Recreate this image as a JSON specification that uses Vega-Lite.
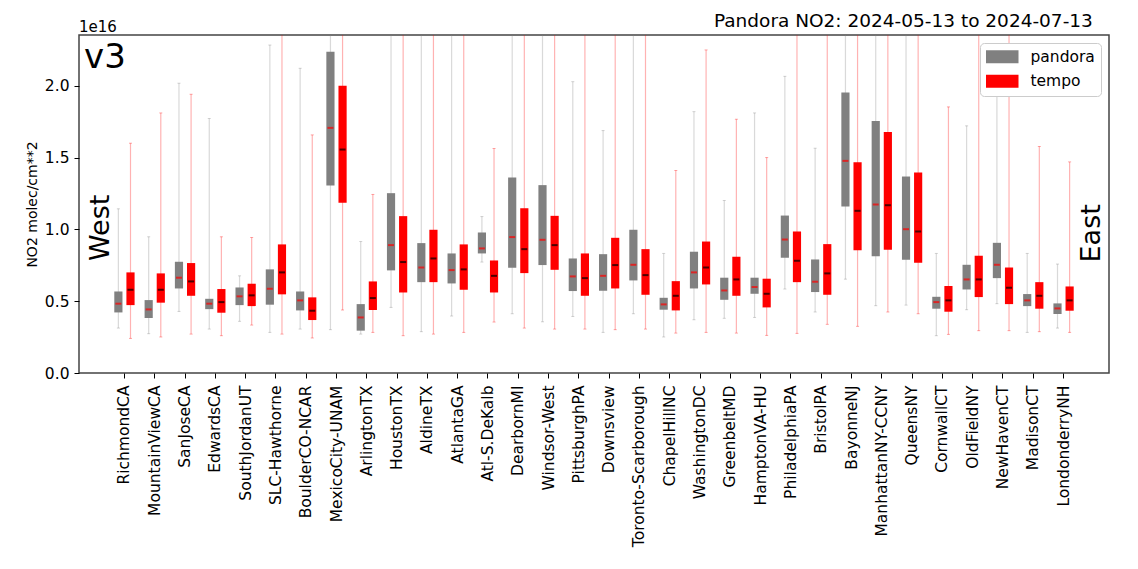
{
  "$schema": "https://vega.github.io/schema/vega-lite/v6.json",
  "width": 1030,
  "height": 338,
  "autosize": {"type": "none"},
  "padding": {"left": 79, "top": 35, "right": 29, "bottom": 196},
  "background": "white",
  "config": {
    "view": {"stroke": "#444444", "strokeWidth": 1.5},
    "font": "DejaVu Sans",
    "axis": {"labelFont": "DejaVu Sans", "titleFont": "DejaVu Sans", "labelColor": "black", "titleColor": "black", "tickColor": "black", "grid": false, "domain": false}
  },
  "layer": [
    {
      "data": {"values": [
        {"site": "RichmondCA", "src": "pandora", "lo": 0.313, "q1": 0.422, "med": 0.483, "q3": 0.568, "hi": 1.144},
        {"site": "RichmondCA", "src": "tempo", "lo": 0.241, "q1": 0.473, "med": 0.580, "q3": 0.701, "hi": 1.601},
        {"site": "MountainViewCA", "src": "pandora", "lo": 0.274, "q1": 0.383, "med": 0.443, "q3": 0.508, "hi": 0.949},
        {"site": "MountainViewCA", "src": "tempo", "lo": 0.251, "q1": 0.490, "med": 0.580, "q3": 0.694, "hi": 1.812},
        {"site": "SanJoseCA", "src": "pandora", "lo": 0.429, "q1": 0.589, "med": 0.664, "q3": 0.775, "hi": 2.019},
        {"site": "SanJoseCA", "src": "tempo", "lo": 0.271, "q1": 0.538, "med": 0.638, "q3": 0.766, "hi": 1.942},
        {"site": "EdwardsCA", "src": "pandora", "lo": 0.306, "q1": 0.445, "med": 0.483, "q3": 0.517, "hi": 1.773},
        {"site": "EdwardsCA", "src": "tempo", "lo": 0.260, "q1": 0.420, "med": 0.494, "q3": 0.585, "hi": 0.949},
        {"site": "SouthJordanUT", "src": "pandora", "lo": 0.360, "q1": 0.473, "med": 0.534, "q3": 0.596, "hi": 0.677},
        {"site": "SouthJordanUT", "src": "tempo", "lo": 0.334, "q1": 0.466, "med": 0.541, "q3": 0.622, "hi": 0.944},
        {"site": "SLC-Hawthorne", "src": "pandora", "lo": 0.283, "q1": 0.476, "med": 0.587, "q3": 0.722, "hi": 2.285},
        {"site": "SLC-Hawthorne", "src": "tempo", "lo": 0.271, "q1": 0.548, "med": 0.701, "q3": 0.896, "hi": 2.6},
        {"site": "BoulderCO-NCAR", "src": "pandora", "lo": 0.306, "q1": 0.436, "med": 0.506, "q3": 0.568, "hi": 2.123},
        {"site": "BoulderCO-NCAR", "src": "tempo", "lo": 0.244, "q1": 0.369, "med": 0.434, "q3": 0.527, "hi": 1.659},
        {"site": "MexicoCity-UNAM", "src": "pandora", "lo": 0.302, "q1": 1.306, "med": 1.708, "q3": 2.239, "hi": 2.6},
        {"site": "MexicoCity-UNAM", "src": "tempo", "lo": 0.439, "q1": 1.186, "med": 1.557, "q3": 2.002, "hi": 2.6},
        {"site": "ArlingtonTX", "src": "pandora", "lo": 0.271, "q1": 0.295, "med": 0.387, "q3": 0.480, "hi": 0.916},
        {"site": "ArlingtonTX", "src": "tempo", "lo": 0.283, "q1": 0.439, "med": 0.522, "q3": 0.638, "hi": 1.244},
        {"site": "HoustonTX", "src": "pandora", "lo": 0.457, "q1": 0.715, "med": 0.891, "q3": 1.253, "hi": 2.6},
        {"site": "HoustonTX", "src": "tempo", "lo": 0.260, "q1": 0.561, "med": 0.773, "q3": 1.093, "hi": 2.6},
        {"site": "AldineTX", "src": "pandora", "lo": 0.288, "q1": 0.633, "med": 0.735, "q3": 0.905, "hi": 2.6},
        {"site": "AldineTX", "src": "tempo", "lo": 0.271, "q1": 0.633, "med": 0.798, "q3": 0.998, "hi": 2.6},
        {"site": "AtlantaGA", "src": "pandora", "lo": 0.397, "q1": 0.624, "med": 0.717, "q3": 0.833, "hi": 2.6},
        {"site": "AtlantaGA", "src": "tempo", "lo": 0.283, "q1": 0.580, "med": 0.722, "q3": 0.896, "hi": 2.6},
        {"site": "Atl-S.DeKalb", "src": "pandora", "lo": 0.773, "q1": 0.833, "med": 0.868, "q3": 0.979, "hi": 1.090},
        {"site": "Atl-S.DeKalb", "src": "tempo", "lo": 0.355, "q1": 0.561, "med": 0.677, "q3": 0.784, "hi": 1.564},
        {"site": "DearbornMI", "src": "pandora", "lo": 0.413, "q1": 0.733, "med": 0.947, "q3": 1.362, "hi": 2.6},
        {"site": "DearbornMI", "src": "tempo", "lo": 0.313, "q1": 0.696, "med": 0.863, "q3": 1.148, "hi": 2.6},
        {"site": "Windsor-West", "src": "pandora", "lo": 0.357, "q1": 0.752, "med": 0.928, "q3": 1.309, "hi": 2.6},
        {"site": "Windsor-West", "src": "tempo", "lo": 0.306, "q1": 0.719, "med": 0.891, "q3": 1.095, "hi": 2.6},
        {"site": "PittsburghPA", "src": "pandora", "lo": 0.394, "q1": 0.571, "med": 0.673, "q3": 0.798, "hi": 2.030},
        {"site": "PittsburghPA", "src": "tempo", "lo": 0.306, "q1": 0.538, "med": 0.661, "q3": 0.833, "hi": 2.6},
        {"site": "Downsview", "src": "pandora", "lo": 0.283, "q1": 0.573, "med": 0.677, "q3": 0.828, "hi": 1.689},
        {"site": "Downsview", "src": "tempo", "lo": 0.302, "q1": 0.589, "med": 0.752, "q3": 0.942, "hi": 2.6},
        {"site": "Toronto-Scarborough", "src": "pandora", "lo": 0.413, "q1": 0.645, "med": 0.754, "q3": 0.998, "hi": 2.6},
        {"site": "Toronto-Scarborough", "src": "tempo", "lo": 0.306, "q1": 0.545, "med": 0.682, "q3": 0.863, "hi": 2.6},
        {"site": "ChapelHillNC", "src": "pandora", "lo": 0.251, "q1": 0.441, "med": 0.478, "q3": 0.524, "hi": 0.833},
        {"site": "ChapelHillNC", "src": "tempo", "lo": 0.278, "q1": 0.436, "med": 0.538, "q3": 0.640, "hi": 1.411},
        {"site": "WashingtonDC", "src": "pandora", "lo": 0.371, "q1": 0.589, "med": 0.701, "q3": 0.845, "hi": 1.821},
        {"site": "WashingtonDC", "src": "tempo", "lo": 0.283, "q1": 0.617, "med": 0.735, "q3": 0.916, "hi": 2.251},
        {"site": "GreenbeltMD", "src": "pandora", "lo": 0.381, "q1": 0.510, "med": 0.575, "q3": 0.664, "hi": 1.202},
        {"site": "GreenbeltMD", "src": "tempo", "lo": 0.278, "q1": 0.538, "med": 0.652, "q3": 0.810, "hi": 1.768},
        {"site": "HamptonVA-HU", "src": "pandora", "lo": 0.387, "q1": 0.552, "med": 0.599, "q3": 0.664, "hi": 1.812},
        {"site": "HamptonVA-HU", "src": "tempo", "lo": 0.262, "q1": 0.457, "med": 0.552, "q3": 0.657, "hi": 1.501},
        {"site": "PhiladelphiaPA", "src": "pandora", "lo": 0.585, "q1": 0.803, "med": 0.930, "q3": 1.097, "hi": 2.067},
        {"site": "PhiladelphiaPA", "src": "tempo", "lo": 0.276, "q1": 0.633, "med": 0.782, "q3": 0.986, "hi": 2.6},
        {"site": "BristolPA", "src": "pandora", "lo": 0.425, "q1": 0.564, "med": 0.636, "q3": 0.791, "hi": 1.566},
        {"site": "BristolPA", "src": "tempo", "lo": 0.339, "q1": 0.545, "med": 0.694, "q3": 0.898, "hi": 2.6},
        {"site": "BayonneNJ", "src": "pandora", "lo": 0.654, "q1": 1.160, "med": 1.478, "q3": 1.954, "hi": 2.6},
        {"site": "BayonneNJ", "src": "tempo", "lo": 0.325, "q1": 0.856, "med": 1.130, "q3": 1.469, "hi": 2.6},
        {"site": "ManhattanNY-CCNY", "src": "pandora", "lo": 0.469, "q1": 0.814, "med": 1.174, "q3": 1.756, "hi": 2.6},
        {"site": "ManhattanNY-CCNY", "src": "tempo", "lo": 0.425, "q1": 0.858, "med": 1.169, "q3": 1.680, "hi": 2.6},
        {"site": "QueensNY", "src": "pandora", "lo": 0.473, "q1": 0.789, "med": 1.002, "q3": 1.369, "hi": 2.6},
        {"site": "QueensNY", "src": "tempo", "lo": 0.413, "q1": 0.768, "med": 0.986, "q3": 1.397, "hi": 2.6},
        {"site": "CornwallCT", "src": "pandora", "lo": 0.260, "q1": 0.448, "med": 0.494, "q3": 0.531, "hi": 0.833},
        {"site": "CornwallCT", "src": "tempo", "lo": 0.269, "q1": 0.427, "med": 0.506, "q3": 0.606, "hi": 1.854},
        {"site": "OldFieldNY", "src": "pandora", "lo": 0.441, "q1": 0.582, "med": 0.652, "q3": 0.754, "hi": 1.722},
        {"site": "OldFieldNY", "src": "tempo", "lo": 0.295, "q1": 0.529, "med": 0.652, "q3": 0.817, "hi": 2.6},
        {"site": "NewHavenCT", "src": "pandora", "lo": 0.483, "q1": 0.661, "med": 0.754, "q3": 0.907, "hi": 2.037},
        {"site": "NewHavenCT", "src": "tempo", "lo": 0.295, "q1": 0.480, "med": 0.594, "q3": 0.735, "hi": 2.6},
        {"site": "MadisonCT", "src": "pandora", "lo": 0.283, "q1": 0.466, "med": 0.506, "q3": 0.550, "hi": 0.833},
        {"site": "MadisonCT", "src": "tempo", "lo": 0.288, "q1": 0.448, "med": 0.538, "q3": 0.633, "hi": 1.578},
        {"site": "LondonderryNH", "src": "pandora", "lo": 0.313, "q1": 0.411, "med": 0.450, "q3": 0.485, "hi": 0.759},
        {"site": "LondonderryNH", "src": "tempo", "lo": 0.283, "q1": 0.434, "med": 0.506, "q3": 0.603, "hi": 1.471}
      ]},
      "encoding": {
        "x": {"field": "site", "type": "nominal", "sort": null, "scale": {"paddingInner": 0, "paddingOuter": 2.5},
              "axis": {"title": null, "labelAngle": -90, "labelFontSize": 15.5, "tickSize": 5, "labelPadding": 7}},
        "xOffset": {"field": "src", "type": "nominal", "scale": {"domain": ["pandora", "tempo"], "paddingInner": 0.325, "paddingOuter": 0.4125}}
      },
      "layer": [
        {
          "mark": {"type": "rule", "clip": true, "strokeWidth": 1.2, "opacity": 0.3},
          "encoding": {
            "y": {"field": "lo", "type": "quantitative", "scale": {"domain": [0, 2.355], "nice": false},
                  "axis": {"title": "NO2 molec/cm**2", "titleFontSize": 14, "titleFontWeight": "normal", "titlePadding": 5, "values": [0, 0.5, 1, 1.5, 2], "format": ".1f", "labelFontSize": 15.5, "tickSize": 5, "labelPadding": 5}},
            "y2": {"field": "hi"},
            "color": {"field": "src", "type": "nominal", "scale": {"domain": ["pandora", "tempo"], "range": ["#808080", "#ff0000"]}}
          }
        },
        {
          "mark": {"type": "tick", "clip": true, "size": 3, "thickness": 1, "opacity": 0.35},
          "encoding": {
            "y": {"field": "lo", "type": "quantitative"},
            "color": {"field": "src", "type": "nominal"}
          }
        },
        {
          "mark": {"type": "tick", "clip": true, "size": 3, "thickness": 1, "opacity": 0.35},
          "encoding": {
            "y": {"field": "hi", "type": "quantitative"},
            "color": {"field": "src", "type": "nominal"}
          }
        },
        {
          "mark": {"type": "bar", "clip": true},
          "encoding": {
            "y": {"field": "q1", "type": "quantitative"},
            "y2": {"field": "q3"},
            "color": {"field": "src", "type": "nominal",
                      "legend": {"title": null, "orient": "top-right", "offset": 8, "padding": 6, "strokeColor": "#cccccc", "fillColor": "white", "cornerRadius": 4,
                                 "labelFontSize": 15.5, "labelFont": "DejaVu Sans", "labelColor": "black",
                                 "symbolType": "M-2.5,-1H2.5V1H-2.5Z", "symbolSize": 169, "symbolOffset": 8.5, "labelOffset": 20.5, "rowPadding": 7.5,
                                 "symbolOpacity": 1, "symbolStrokeWidth": 0,
                                 "encode": {"symbols": {"update": {"opacity": {"value": 1}, "fillOpacity": {"value": 1}}}}}}
          }
        },
        {
          "mark": {"type": "tick", "clip": true, "size": 6, "thickness": 2},
          "encoding": {
            "y": {"field": "med", "type": "quantitative"},
            "fill": {"field": "src", "type": "nominal", "scale": {"domain": ["pandora", "tempo"], "range": ["#ff0000", "#000000"]}, "legend": null}
          }
        }
      ]
    },
    {
      "data": {"values": [{}]},
      "layer": [
        {
          "mark": {"type": "text", "text": "v3", "fontSize": 34, "align": "left", "baseline": "alphabetic", "font": "DejaVu Sans", "color": "black"},
          "encoding": {
            "x": {"datum": -2.82, "type": "quantitative", "scale": {"domain": [-3, 34], "nice": false, "zero": false}, "axis": null},
            "y": {"datum": 2.125, "type": "quantitative"}
          }
        },
        {
          "mark": {"type": "text", "text": "1e16", "fontSize": 15, "align": "left", "baseline": "alphabetic", "dy": -3, "font": "DejaVu Sans", "color": "black"},
          "encoding": {
            "x": {"datum": -3, "type": "quantitative"},
            "y": {"datum": 2.355, "type": "quantitative"}
          }
        },
        {
          "mark": {"type": "text", "text": "Pandora NO2: 2024-05-13 to 2024-07-13", "fontSize": 18.5, "align": "right", "baseline": "alphabetic", "dy": -8, "font": "DejaVu Sans", "color": "black"},
          "encoding": {
            "x": {"datum": 33.42, "type": "quantitative"},
            "y": {"datum": 2.355, "type": "quantitative"}
          }
        },
        {
          "mark": {"type": "text", "text": "West", "fontSize": 27, "angle": 270, "align": "center", "baseline": "middle", "font": "DejaVu Sans", "color": "black"},
          "encoding": {
            "x": {"datum": -2.21, "type": "quantitative"},
            "y": {"datum": 1.011, "type": "quantitative"}
          }
        },
        {
          "mark": {"type": "text", "text": "East", "fontSize": 27, "angle": 270, "align": "center", "baseline": "middle", "font": "DejaVu Sans", "color": "black"},
          "encoding": {
            "x": {"datum": 33.39, "type": "quantitative"},
            "y": {"datum": 0.973, "type": "quantitative"}
          }
        }
      ]
    }
  ],
  "resolve": {"scale": {"x": "independent"}}
}
